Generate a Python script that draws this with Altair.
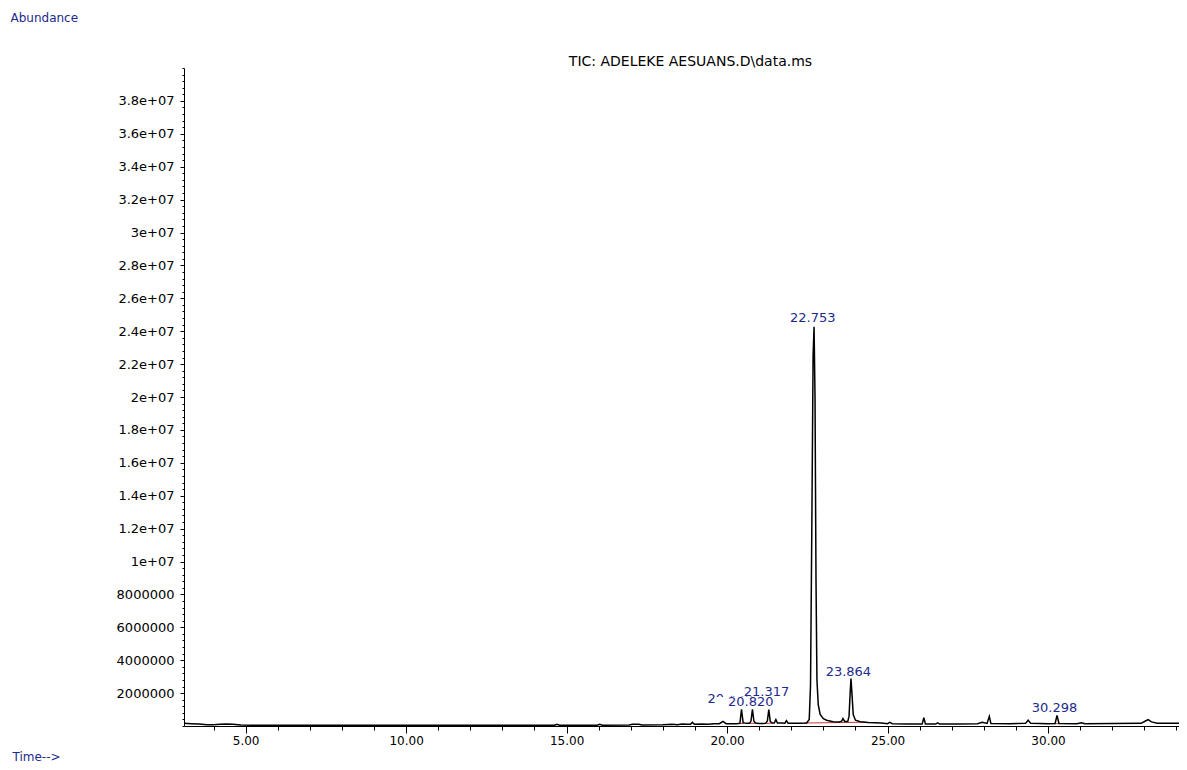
import altair as alt
import pandas as pd

# ---- TIC trace (retention time in min, abundance) ----
time_min = [3.08, 3.30, 3.55, 3.80, 4.00, 4.20, 4.40, 4.60, 4.85, 5.20, 6.00, 7.00, 8.00,
            9.00, 10.00, 11.00, 12.00, 13.00, 14.00, 14.62, 14.70, 14.78, 15.50, 15.95,
            16.03, 16.12, 16.95, 17.05, 17.25, 17.35, 18.00, 18.30, 18.45, 18.60, 18.75,
            18.86, 18.92, 18.98, 19.20, 19.40, 19.60, 19.76, 19.87, 19.97, 20.10, 20.30,
            20.40, 20.45, 20.50, 20.60, 20.70, 20.745, 20.79, 20.835, 20.88, 21.00, 21.20,
            21.255, 21.30, 21.345, 21.40, 21.47, 21.52, 21.57, 21.70, 21.80, 21.85, 21.90,
            22.10, 22.30, 22.48, 22.56, 22.60, 22.64, 22.68, 22.71, 22.74, 22.77, 22.80,
            22.84, 22.90, 23.00, 23.10, 23.30, 23.50, 23.57, 23.61, 23.66, 23.76, 23.80,
            23.835, 23.86, 23.89, 23.93, 24.00, 24.15, 24.40, 24.80, 25.00, 25.07, 25.15,
            25.60, 26.08, 26.13, 26.18, 26.50, 26.56, 26.62, 27.20, 27.80, 27.95, 28.10,
            28.17, 28.22, 28.80, 29.30, 29.38, 29.46, 30.00, 30.22, 30.28, 30.34, 30.90,
            31.04, 31.15, 32.00, 32.90, 33.05, 33.12, 33.22, 33.40, 34.00, 34.33]
abundance = [160000, 140000, 120000, 80000, 70000, 100000, 120000, 100000, 60000, 50000,
             50000, 45000, 40000, 40000, 40000, 40000, 40000, 45000, 50000, 50000, 110000,
             50000, 50000, 50000, 100000, 50000, 60000, 110000, 100000, 60000, 70000,
             100000, 80000, 120000, 100000, 100000, 220000, 100000, 120000, 100000, 140000,
             140000, 280000, 140000, 130000, 140000, 160000, 1020000, 200000, 160000,
             160000, 300000, 1020000, 300000, 180000, 150000, 160000, 300000, 1000000,
             280000, 180000, 180000, 390000, 180000, 180000, 170000, 330000, 170000,
             160000, 170000, 180000, 400000, 2500000, 12000000, 22500000, 24270000,
             20000000, 9000000, 2800000, 1300000, 700000, 450000, 350000, 260000, 240000,
             300000, 450000, 290000, 270000, 600000, 2000000, 2880000, 2000000, 700000,
             350000, 260000, 220000, 180000, 140000, 220000, 140000, 120000, 120000,
             510000, 120000, 120000, 190000, 120000, 120000, 140000, 220000, 160000,
             590000, 150000, 140000, 160000, 350000, 160000, 140000, 150000, 650000,
             150000, 140000, 200000, 140000, 150000, 160000, 320000, 390000, 250000,
             170000, 170000, 180000]

# ---- peak labels (text, where they sit) ----
label_text = ["22.753", "23.864", "21.317", "20.820", "30.298"]
label_time = [22.67, 23.78, 21.23, 20.74, 30.20]
label_abund = [24780000, 3280000, 2090000, 1460000, 1080000]

# label mostly hidden behind the two labels drawn over it
hidden_text = ["20.478"]
hidden_time = [20.10]
hidden_abund = [1660000]

# ---- integration baselines (red) ----
base_start = [20.38, 20.72, 21.22, 22.40, 30.18]
base_end = [20.52, 20.87, 21.38, 24.30, 30.40]
base_level_start = [150000, 160000, 160000, 180000, 140000]
base_level_end = [160000, 170000, 170000, 230000, 150000]

# ---- axis ticks ----
x_major = [5, 10, 15, 20, 25, 30]
x_minor = list(range(4, 35))
y_major = [2000000 * i for i in range(1, 20)]
y_minor = [400000 * i for i in range(0, 101)]

NAVY = "#1b2a8c"
FONT = "DejaVu Sans"

trace = pd.DataFrame({"t": time_min, "a": abundance})
labels = pd.DataFrame({"txt": label_text, "t": label_time, "a": label_abund})
hidden = pd.DataFrame({"txt": hidden_text, "t": hidden_time, "a": hidden_abund})
bases = pd.DataFrame({"t1": base_start, "t2": base_end,
                      "a1": base_level_start, "a2": base_level_end})

xs = alt.Scale(domain=[3.08, 34.08], nice=False, zero=False)
ys = alt.Scale(domain=[0, 40000000], nice=False, zero=False)

# minor-tick axes ride on the baseline layer
red = alt.Chart(bases).mark_rule(color="#cc3333", strokeWidth=1).encode(
    x=alt.X("t1:Q", scale=xs, axis=alt.Axis(
        orient="bottom", values=x_minor, tickSize=4, tickColor="black", tickWidth=1,
        labels=False, domain=False, grid=False, title=None)),
    x2="t2:Q",
    y=alt.Y("a1:Q", scale=ys, axis=alt.Axis(
        orient="left", values=y_minor, tickSize=2, tickColor="black", tickWidth=1,
        labels=False, domain=False, grid=False, title=None)),
    y2="a2:Q",
)

line = alt.Chart(trace).mark_line(color="black", strokeWidth=1.5, clip=True).encode(
    x=alt.X("t:Q", scale=xs, axis=alt.Axis(
        orient="bottom", values=x_major, format=".2f", tickSize=7, tickColor="black",
        tickWidth=1, domain=True, domainColor="black", domainWidth=1, grid=False,
        labelFont=FONT, labelFontSize=12, labelColor="black", labelPadding=2,
        labelFlush=False, labelOverlap=False,
        title="Time-->", titleFont=FONT, titleFontSize=12, titleFontWeight="normal",
        titleColor=NAVY, titleAngle=0, titleAlign="left", titleBaseline="middle",
        titleX=-172, titleY=30)),
    y=alt.Y("a:Q", scale=ys, axis=alt.Axis(
        orient="left", values=y_major, tickSize=4, tickColor="black", tickWidth=1,
        domain=True, domainColor="black", domainWidth=1, grid=False,
        labelExpr="datum.value >= 1e7 ? format(datum.value / 1e7, '.2~f') + 'e+07' : format(datum.value, 'd')",
        labelFont=FONT, labelFontSize=13, labelColor="black", labelPadding=6,
        labelOverlap=False,
        title="Abundance", titleFont=FONT, titleFontSize=12, titleFontWeight="normal",
        titleColor=NAVY, titleAngle=0, titleAlign="left", titleBaseline="middle",
        titleX=-174, titleY=-51)),
    order="t:Q",
)

hidden_txt = alt.Chart(hidden).mark_text(
    font=FONT, fontSize=13, color=NAVY, align="center", baseline="middle").encode(
    x=alt.X("t:Q", scale=xs, axis=None),
    y=alt.Y("a:Q", scale=ys, axis=None),
    text="txt:N",
)

boxes = alt.Chart(labels).transform_calculate(
    tl="datum.t - 1.08", tr="datum.t + 1.0",
    ab="datum.a - 300000", at="datum.a + 300000",
).mark_rect(color="white").encode(
    x=alt.X("tl:Q", scale=xs, axis=None),
    x2="tr:Q",
    y=alt.Y("ab:Q", scale=ys, axis=None),
    y2="at:Q",
)

label_txt = alt.Chart(labels).mark_text(
    font=FONT, fontSize=13, color=NAVY, align="center", baseline="middle").encode(
    x=alt.X("t:Q", scale=xs, axis=None),
    y=alt.Y("a:Q", scale=ys, axis=None),
    text="txt:N",
)

chart = alt.layer(red, hidden_txt, boxes, label_txt, line).resolve_axis(
    x="independent", y="independent"
).properties(
    width=995,
    height=658,
    padding={"left": 176, "top": 60, "right": 0, "bottom": 36},
    autosize=alt.AutoSizeParams(type="none"),
    background="white",
    title=alt.TitleParams(
        "TIC: ADELEKE AESUANS.D\\data.ms", font=FONT, fontSize=14,
        fontWeight="normal", color="black", anchor="middle",
        baseline="alphabetic", offset=2, dy=71, dx=9),
).configure_view(strokeWidth=0, stroke="transparent")

chart.save("out.html", embed_options={"renderer": "svg", "actions": False})
